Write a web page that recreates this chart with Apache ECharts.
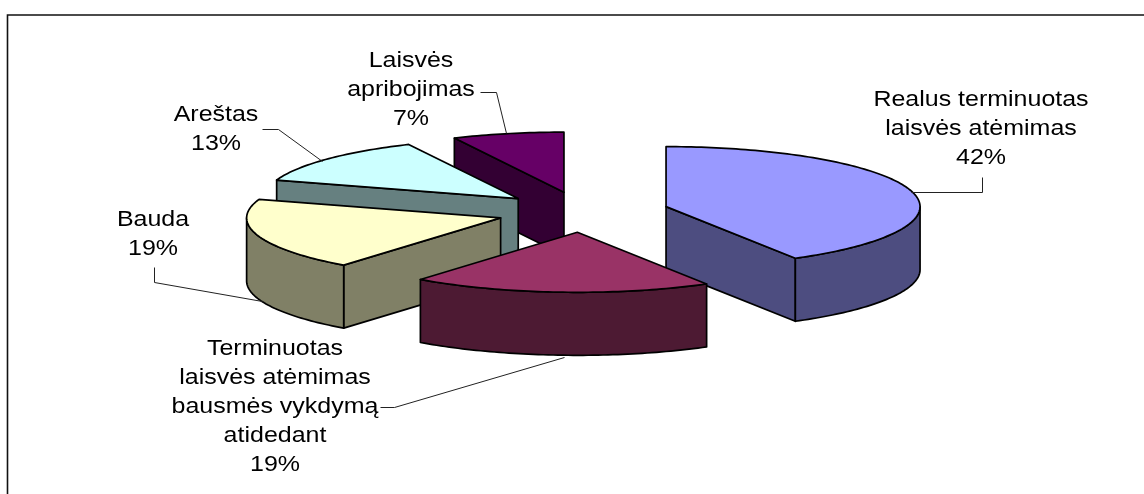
<!DOCTYPE html>
<html>
<head>
<meta charset="utf-8">
<style>
html, body { margin: 0; padding: 0; background: #fff; }
#chart { width: 1144px; height: 494px; }
</style>
<script src="https://cdn.jsdelivr.net/npm/echarts@6/dist/echarts.min.js"></script>
</head>
<body>
<div id="chart"></div>
<script>
const categories = [
    "Realus terminuotas\nlaisvės atėmimas",
    "Terminuotas\nlaisvės atėmimas\nbausmės vykdymą\natidedant",
    "Bauda",
    "Areštas",
    "Laisvės\napribojimas"
];
const shares = [41.5, 19.1, 19.4, 12.9, 7.1];
const topColors = ["#9999ff", "#993366", "#ffffcc", "#ccffff", "#660066"];
const sideColors = ["#4d4d80", "#4d1a33", "#808066", "#668080", "#330033"];
// back to front
const drawOrder = [4, 3, 2, 0, 1];

// pie projection, px
const pieCx = 583, pieCy = 212, radiusX = 254, radiusY = 60, depth = 63, explode = 0.339;

const labelCenters = [[981, 129], [275, 407], [153, 234], [216, 129], [411, 90]];
const leaders = [
    [[982, 177], [982, 192], [911, 192]],
    [[380, 407], [394, 407], [564, 357]],
    [[154, 267], [154, 282], [262, 301]],
    [[262, 129], [278, 129], [322, 161]],
    [[480, 92], [496, 92], [506, 133]]
];

const total = shares.reduce((a, b) => a + b, 0);

function sliceGeom(idx) {
    let before = 0;
    for (let i = 0; i < idx; i++) before += shares[i];
    const a0 = before / total * Math.PI * 2;
    const a1 = (before + shares[idx]) / total * Math.PI * 2;
    const mid = (a0 + a1) / 2;
    return {
        a0, a1,
        cx: pieCx + explode * radiusX * Math.sin(mid),
        cy: pieCy - explode * radiusY * Math.cos(mid)
    };
}

function rimPoints(g, from, to, dy) {
    const pts = [];
    const n = Math.max(2, Math.ceil((to - from) / 0.02));
    for (let i = 0; i <= n; i++) {
        const a = from + (to - from) * i / n;
        pts.push([g.cx + radiusX * Math.sin(a), g.cy - radiusY * Math.cos(a) + dy]);
    }
    return pts;
}

function poly(points, fill) {
    return {
        type: "polygon",
        shape: { points },
        style: { fill, stroke: "#000", lineWidth: 1.7, lineJoin: "round" }
    };
}

function renderSlice(params, api) {
    const idx = api.value(0);
    const g = sliceGeom(idx);
    const side = sideColors[idx];
    const children = [];
    const cutFace = (a) => {
        const p = [g.cx + radiusX * Math.sin(a), g.cy - radiusY * Math.cos(a)];
        return poly([[g.cx, g.cy], p, [p[0], p[1] + depth], [g.cx, g.cy + depth]], side);
    };
    // a cut face only shows when it turns towards the viewer
    if (Math.sin(g.a0) < -1e-6) children.push(cutFace(g.a0));
    if (Math.sin(g.a1) > 1e-6) children.push(cutFace(g.a1));
    const from = Math.max(g.a0, Math.PI / 2), to = Math.min(g.a1, Math.PI * 1.5);
    if (to > from) {
        const upper = rimPoints(g, from, to, 0);
        const lower = rimPoints(g, from, to, depth).reverse();
        children.push(poly(upper.concat(lower), side));
    }
    children.push(poly([[g.cx, g.cy]].concat(rimPoints(g, g.a0, g.a1, 0)), topColors[idx]));
    return { type: "group", children };
}

function renderLabel(params, api) {
    const idx = api.value(0);
    return {
        type: "group",
        children: [
            {
                type: "polyline",
                shape: { points: leaders[idx].map((p) => [p[0] + 0.5, p[1] + 0.5]) },
                style: { fill: null, stroke: "#222", lineWidth: 1 }
            },
            {
                type: "text",
                x: labelCenters[idx][0],
                y: labelCenters[idx][1],
                scaleX: 1.11,
                style: {
                    text: categories[idx] + "\n" + Math.round(shares[idx]) + "%",
                    fontFamily: "Liberation Sans",
                    fontSize: 22.5,
                    lineHeight: 29,
                    fill: "#000",
                    align: "center",
                    verticalAlign: "middle"
                }
            }
        ]
    };
}

const chart = echarts.init(document.getElementById("chart"), null, { renderer: "canvas" });
chart.setOption({
    animation: false,
    backgroundColor: "#fff",
    graphic: [{
        type: "polyline",
        shape: { points: [[7.5, 494], [7.5, 15], [1144, 15]] },
        style: { fill: null, stroke: "#111", lineWidth: 1.6 },
        silent: true
    }],
    series: [
        {
            type: "custom",
            coordinateSystem: "none",
            renderItem: renderSlice,
            data: drawOrder.map((i) => [i]),
            silent: true
        },
        {
            type: "custom",
            coordinateSystem: "none",
            renderItem: renderLabel,
            data: shares.map((v, i) => [i]),
            silent: true
        }
    ]
});
</script>
</body>
</html>
